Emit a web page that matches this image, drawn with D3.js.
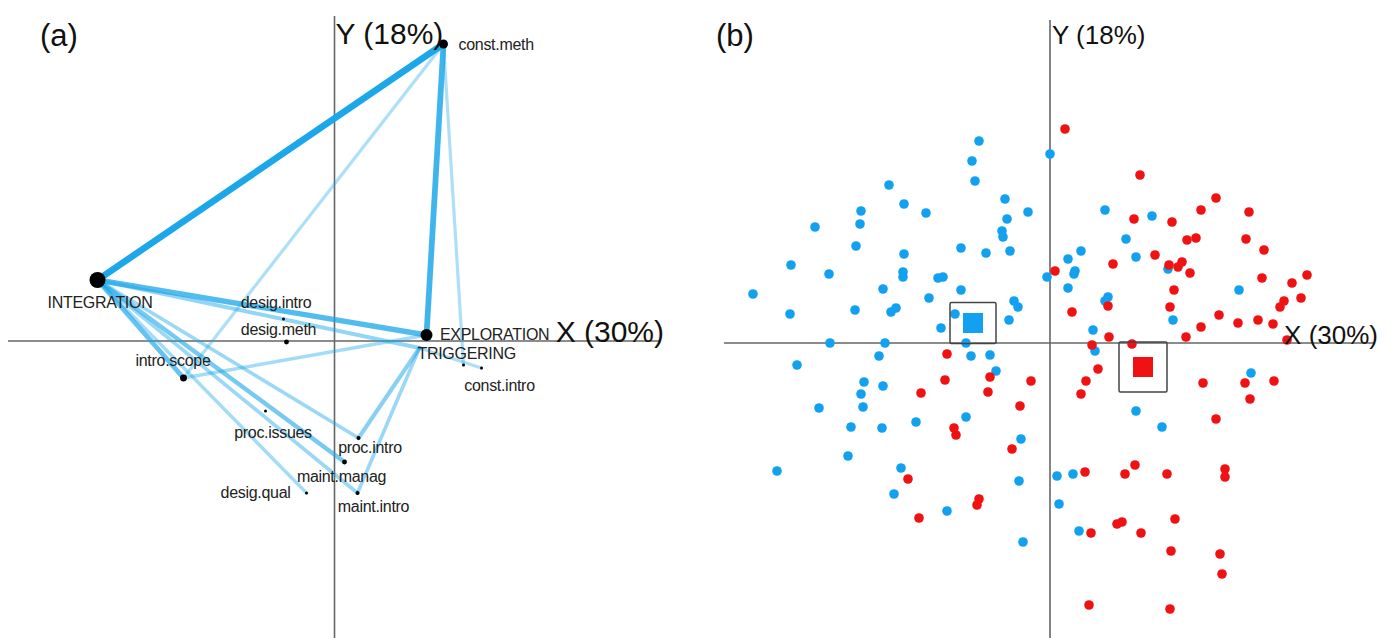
<!DOCTYPE html>
<html>
<head>
<meta charset="utf-8">
<script src="https://cdn.jsdelivr.net/npm/d3@7"></script>
<style>
  html, body { margin: 0; padding: 0; background: #fff; }
  svg { display: block; }
</style>
</head>
<body>
<svg id="chart" width="1390" height="638"></svg>
<script>
// ---------- Panel (a): category network on the first factorial plane ----------
const nodeNames  = ["const.meth", "INTEGRATION", "EXPLORATION", "TRIGGERING", "desig.intro", "desig.meth",
                    "intro.scope", "proc.issues", "desig.qual", "maint.manag", "proc.intro", "maint.intro",
                    "const.scope", "const.intro"];
const nodeX      = [1.09, -2.37, 0.92, 0.85, -0.51, -0.48, -1.51, -0.69, -0.28, 0.10, 0.24, 0.23, 1.29, 1.47];
const nodeY      = [2.97, 0.61, 0.06, -0.07, 0.22, -0.01, -0.37, -0.70, -1.52, -1.21, -0.97, -1.52, -0.24, -0.27];
const nodeWeight = [20, 64, 36, 0, 2.25, 6, 12, 2.25, 2.25, 6, 4, 4, 2.25, 2.25];
const nodeShown  = [true, true, true, true, true, true, true, true, true, true, true, true, false, true];

const edgeFrom   = ["INTEGRATION", "const.meth", "INTEGRATION", "INTEGRATION", "INTEGRATION", "INTEGRATION",
                    "TRIGGERING", "INTEGRATION", "INTEGRATION", "INTEGRATION", "TRIGGERING", "intro.scope",
                    "intro.scope", "const.meth", "TRIGGERING"];
const edgeTo     = ["const.meth", "EXPLORATION", "EXPLORATION", "intro.scope", "maint.manag", "TRIGGERING",
                    "proc.intro", "proc.intro", "maint.intro", "desig.qual", "maint.intro", "EXPLORATION",
                    "const.meth", "const.scope", "const.intro"];
const edgeWeight = [10, 8, 7, 6, 5, 3.5, 4, 3, 3, 2.5, 3, 2.5, 2, 2, 2];

const axisTitleX = "X (30%)";
const axisTitleY = "Y (18%)";

// ---------- Panel (b): individuals coloured by group ----------
const blueX = [-0.71, -0.78, -0.75, 0.00, -1.61, -1.46, -1.24, -1.89, -1.90, -2.35, -0.45, -0.22, -0.43, -0.48,
               -0.47, -1.94, -1.46, -0.89, -0.64, -0.40, -2.59, -2.21, -1.47, -1.47, -1.12, -1.07, -0.03, -1.67,
               -0.89, -2.97, -1.21, -2.60, -1.95, -1.59, -1.54, -0.36, -0.32, -0.95, -0.41, -1.09, -2.20, -1.65,
               -0.84, -1.71, -2.53, -0.79, -0.60, -0.54, -1.86, -1.67, -1.89, -2.31, -1.87, -1.34, -0.84, -1.99,
               -1.68, -0.29, -2.02, -2.73, -1.49, -0.31, -1.56, -1.03, -0.27,
               0.55, 1.02, 0.76, 0.31, 0.18, 0.86, 1.18, 0.25, 0.24, 0.18, 1.89, 0.58, 0.55, 1.23, 0.43, 0.45,
               2.01, 0.86, 1.12, 0.07, 0.23, 0.09, 0.29];
const blueY = [2.02, 1.82, 1.62, 1.89, 1.58, 1.39, 1.30, 1.32, 1.19, 1.16, 1.44, 1.31, 1.24, 1.12,
               1.06, 0.97, 0.89, 0.95, 0.90, 0.92, 0.78, 0.69, 0.71, 0.66, 0.65, 0.66, 0.66, 0.54,
               0.53, 0.49, 0.45, 0.29, 0.33, 0.31, 0.35, 0.42, 0.36, 0.29, 0.23, 0.15, 0.00, 0.00,
               0.00, -0.13, -0.22, -0.13, -0.12, -0.28, -0.39, -0.43, -0.51, -0.65, -0.64, -0.79, -0.74, -0.84,
               -0.85, -0.96, -1.13, -1.28, -1.25, -1.38, -1.51, -1.68, -1.99,
               1.33, 1.27, 1.04, 0.92, 0.84, 0.86, 0.74, 0.72, 0.69, 0.55, 0.53, 0.46, 0.42, 0.23, 0.13, -0.08,
               -0.30, -0.68, -0.84, -1.33, -1.31, -1.61, -1.88];

const redX = [-1.03, -1.05, -0.60, -0.19, -1.29, -0.62, -0.30, -0.96, -0.94, -0.38, -1.42, -0.71, -0.73, -1.31,
              0.15, 0.90, 1.66, 0.84, 1.22, 1.51, 1.99, 1.37, 1.46, 1.96, 2.14, 1.05, 0.63, 1.19, 1.28, 1.32,
              1.40, 0.05, 2.12, 2.57, 2.42, 1.24, 0.58, 2.34, 2.30, 2.51, 0.22, 1.20, 1.69, 1.88, 2.08, 2.23,
              1.51, 0.59, 1.36, 2.37, 0.42, 0.82, 0.48, 0.36, 0.31, 1.53, 1.95, 2.24, 2.00, 1.66, 0.85, 0.35,
              0.75, 1.17, 1.75, 1.75, 1.25, 0.67, 0.72, 0.91, 0.41, 1.21, 1.70, 1.72, 0.39, 1.20];
const redY = [-0.11, -0.37, -0.34, -0.38, -0.50, -0.49, -0.63, -0.85, -0.92, -1.06, -1.36, -1.56, -1.62, -1.75,
              2.14, 1.68, 1.45, 1.24, 1.21, 1.33, 1.31, 1.03, 1.05, 1.04, 0.93, 0.88, 0.79, 0.78, 0.76, 0.81,
              0.70, 0.72, 0.65, 0.68, 0.60, 0.53, 0.37, 0.42, 0.36, 0.45, 0.31, 0.36, 0.28, 0.20, 0.23, 0.19,
              0.16, 0.06, 0.06, 0.03, -0.02, -0.01, -0.26, -0.38, -0.51, -0.40, -0.40, -0.38, -0.56, -0.76, -1.22, -1.29,
              -1.31, -1.31, -1.26, -1.34, -1.76, -1.81, -1.79, -1.90, -1.90, -2.08, -2.11, -2.31, -2.62, -2.66];

// group centroids (blue group, red group)
const centroidX = [-0.77, 0.93];
const centroidY = [0.20, -0.24];

// ---------- styling / layout ----------
const FONT = "'Liberation Sans', Arial, Helvetica, sans-serif";
const BLUE = "#12a1f0";
const RED = "#f01212";
const EDGE = "#1ba7ea";
const AXIS = "#666";

const svg = d3.select("#chart");

// Panel (a) scales: 100 px per unit
const xa = d3.scaleLinear().domain([-3.265, 3.255]).range([8, 660]);
const ya = d3.scaleLinear().domain([-2.97, 3.25]).range([638, 16]);
// Panel (b) scales
const xb = d3.scaleLinear().domain([-3.26, 3.25]).range([724, 1375]);
const yb = d3.scaleLinear().domain([-2.95, 3.23]).range([638, 20]);

const radius = d3.scaleSqrt().domain([0, 64]).range([0, 8]);
const edgeWidth = d3.scaleLinear().domain([2, 10]).range([3.2, 6.6]);
const edgeOpacity = d3.scaleLinear().domain([2, 10]).range([0.36, 1]);

// label placement relative to each node (px)
const labelLayout = {
  "const.meth":  {dx: 15,   dy: 6,    anchor: "start"},
  "INTEGRATION": {dx: 2.5,  dy: 27.5, anchor: "middle"},
  "EXPLORATION": {dx: 13.5, dy: 4.5,  anchor: "start"},
  "TRIGGERING":  {dx: -2,   dy: 11,   anchor: "start"},
  "desig.intro": {dx: -7.5, dy: -11.5, anchor: "middle"},
  "desig.meth":  {dx: -8,   dy: -7,   anchor: "middle"},
  "intro.scope": {dx: -10.5, dy: -12, anchor: "middle"},
  "proc.issues": {dx: 7.5,  dy: 27,   anchor: "middle"},
  "desig.qual":  {dx: -16,  dy: 5,    anchor: "end"},
  "maint.manag": {dx: -3,   dy: 19.5, anchor: "middle"},
  "proc.intro":  {dx: 11.5, dy: 14.5, anchor: "middle"},
  "maint.intro": {dx: 16,   dy: 18.5, anchor: "middle"},
  "const.intro": {dx: 18,   dy: 22.5, anchor: "middle"}
};

function drawAxes(g, xs, ys) {
  const [x0, x1] = xs.domain();
  const [y0, y1] = ys.domain();
  g.append("line")
    .attr("x1", xs(x0)).attr("x2", xs(x1)).attr("y1", ys(0)).attr("y2", ys(0))
    .attr("stroke", AXIS).attr("stroke-width", 1.6);
  g.append("line")
    .attr("x1", xs(0)).attr("x2", xs(0)).attr("y1", ys(y0)).attr("y2", ys(y1))
    .attr("stroke", AXIS).attr("stroke-width", 1.6);
}

// ---------- draw panel (a) ----------
const ga = svg.append("g");
drawAxes(ga, xa, ya);

const nodes = nodeNames.map((n, i) => ({name: n, x: nodeX[i], y: nodeY[i], w: nodeWeight[i], shown: nodeShown[i]}));
const byName = new Map(nodes.map(d => [d.name, d]));
const edges = edgeFrom.map((f, i) => ({s: byName.get(f), t: byName.get(edgeTo[i]), w: edgeWeight[i]}))
  .sort((a, b) => a.w - b.w);

ga.append("g").selectAll("line").data(edges).join("line")
  .attr("x1", d => xa(d.s.x)).attr("y1", d => ya(d.s.y))
  .attr("x2", d => xa(d.t.x)).attr("y2", d => ya(d.t.y))
  .attr("stroke", EDGE)
  .attr("stroke-opacity", d => edgeOpacity(d.w))
  .attr("stroke-width", d => edgeWidth(d.w))
  .attr("stroke-linecap", "round");

ga.append("g").selectAll("circle").data(nodes.filter(d => d.w > 0)).join("circle")
  .attr("cx", d => xa(d.x)).attr("cy", d => ya(d.y))
  .attr("r", d => radius(d.w))
  .attr("fill", "#000");

ga.append("g").selectAll("text").data(nodes.filter(d => d.shown && labelLayout[d.name])).join("text")
  .attr("x", d => xa(d.x) + labelLayout[d.name].dx)
  .attr("y", d => ya(d.y) + labelLayout[d.name].dy)
  .attr("text-anchor", d => labelLayout[d.name].anchor)
  .attr("font-family", FONT)
  .attr("font-size", 16)
  .attr("letter-spacing", -0.3)
  .attr("fill", "#222")
  .text(d => d.name);

ga.append("text").attr("x", xa(0) + 1).attr("y", ya(0) - 297)
  .attr("font-family", FONT).attr("font-size", 30).attr("fill", "#111").text(axisTitleY);
ga.append("text").attr("x", 664).attr("y", ya(0) + 1).attr("text-anchor", "end")
  .attr("font-family", FONT).attr("font-size", 30).attr("fill", "#111").text(axisTitleX);
ga.append("text").attr("x", 40).attr("y", 46)
  .attr("font-family", FONT).attr("font-size", 31).attr("fill", "#111").text("(a)");

// ---------- draw panel (b) ----------
const gb = svg.append("g");
drawAxes(gb, xb, yb);

const blue = blueX.map((x, i) => ({x, y: blueY[i]}));
const red = redX.map((x, i) => ({x, y: redY[i]}));

gb.append("g").selectAll("circle").data(blue).join("circle")
  .attr("cx", d => xb(d.x)).attr("cy", d => yb(d.y)).attr("r", 4.8).attr("fill", BLUE);
gb.append("g").selectAll("circle").data(red).join("circle")
  .attr("cx", d => xb(d.x)).attr("cy", d => yb(d.y)).attr("r", 4.8).attr("fill", RED);

// centroid markers with their frames
const centroids = centroidX.map((x, i) => ({x, y: centroidY[i], color: i === 0 ? BLUE : RED,
  bw: i === 0 ? 46 : 48, bh: i === 0 ? 41 : 50}));
gb.append("g").selectAll("rect").data(centroids).join("rect")
  .attr("x", d => xb(d.x) - d.bw / 2).attr("y", d => yb(d.y) - d.bh / 2)
  .attr("width", d => d.bw).attr("height", d => d.bh)
  .attr("rx", 1.5)
  .attr("fill", "none").attr("stroke", "#444").attr("stroke-width", 1.5);
gb.append("g").selectAll("rect").data(centroids).join("rect")
  .attr("x", d => xb(d.x) - 10).attr("y", d => yb(d.y) - 10)
  .attr("width", 20).attr("height", 20)
  .attr("fill", d => d.color);

gb.append("text").attr("x", xb(0) + 2).attr("y", 44)
  .attr("font-family", FONT).attr("font-size", 26).attr("fill", "#111").text(axisTitleY);
gb.append("text").attr("x", 1378).attr("y", yb(0) + 1).attr("text-anchor", "end")
  .attr("font-family", FONT).attr("font-size", 26).attr("fill", "#111").text(axisTitleX);
gb.append("text").attr("x", 716).attr("y", 46)
  .attr("font-family", FONT).attr("font-size", 31).attr("fill", "#111").text("(b)");
</script>
</body>
</html>
